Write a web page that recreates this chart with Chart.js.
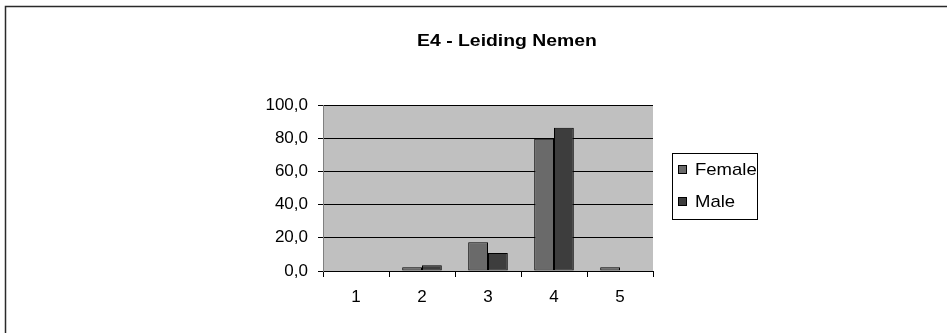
<!DOCTYPE html>
<html>
<head>
<meta charset="utf-8">
<script src="https://cdn.jsdelivr.net/npm/chart.js@4/dist/chart.umd.min.js"></script>
<style>
  html, body { margin: 0; padding: 0; background: #fff; }
  #wrap { width: 947px; height: 333px; }
</style>
</head>
<body>
<div id="wrap"><canvas id="myChart" width="947" height="333"></canvas></div>
<script>
var chartTitle = 'E4 - Leiding Nemen';
var categories = ['1', '2', '3', '4', '5'];
var female = [0, 2.2, 17.3, 79.7, 2.2];
var male = [0, 3.4, 10.9, 86.3, 0];
var seriesNames = ['Female', 'Male'];
var seriesColors = ['#6a6a6a', '#3d3d3d'];

// text drawn a bit wider, like the original
function wideText(c, txt, x, y, sx) {
    c.save();
    c.translate(x, y);
    c.scale(sx, 1);
    c.fillText(txt, 0, 0);
    c.restore();
}

// frame, grey plot area, title and boxed legend
var decor = {
    id: 'decor',
    beforeDraw: function(chart) {
        var c = chart.ctx, a = chart.chartArea;
        c.save();
        c.fillStyle = '#fff';
        c.fillRect(0, 0, chart.width, chart.height);
        c.fillStyle = '#c0c0c0';
        c.fillRect(a.left, a.top, a.right - a.left, a.bottom - a.top);
        c.strokeStyle = '#2a2a2a';
        c.lineWidth = 1.5;
        c.beginPath();
        c.moveTo(5.5, chart.height);
        c.lineTo(5.5, 6.5);
        c.lineTo(chart.width, 6.5);
        c.stroke();
        c.restore();
    },
    afterDraw: function(chart) {
        var c = chart.ctx;
        c.save();
        c.fillStyle = '#000';
        c.font = 'bold 17px "Liberation Sans", Arial, sans-serif';
        c.textAlign = 'center';
        c.textBaseline = 'middle';
        wideText(c, chartTitle, 507, 41, 1.14);

        // legend
        c.fillStyle = '#fff';
        c.fillRect(672, 153, 85, 66);
        c.strokeStyle = '#000';
        c.lineWidth = 1;
        c.strokeRect(672.5, 153.5, 85, 66);
        c.font = '17px "Liberation Sans", Arial, sans-serif';
        c.textAlign = 'left';
        chart.data.datasets.forEach(function(ds, i) {
            var y = 170 + i * 32;
            c.fillStyle = ds.backgroundColor;
            c.fillRect(678.5, y - 4.5, 8, 8);
            c.strokeRect(678.5, y - 4.5, 8, 8);
            c.fillStyle = '#000';
            wideText(c, ds.label, 695, y, 1.09);
        });
        c.restore();
    }
};

var tickFont = { family: '"Liberation Sans", Arial, sans-serif', size: 17 };

var ctx = document.getElementById('myChart').getContext('2d');
var chart = new Chart(ctx, {
    type: 'bar',
    data: {
        labels: categories,
        datasets: [
            {
                label: seriesNames[0],
                data: female,
                backgroundColor: seriesColors[0],
                borderColor: '#000',
                borderWidth: 1,
                borderSkipped: false
            },
            {
                label: seriesNames[1],
                data: male,
                backgroundColor: seriesColors[1],
                borderColor: '#000',
                borderWidth: 1,
                borderSkipped: false
            }
        ]
    },
    options: {
        responsive: false,
        animation: false,
        layout: { padding: { left: 243, right: 294, top: 105, bottom: 22 } },
        datasets: { bar: { categoryPercentage: 0.6, barPercentage: 1.0 } },
        plugins: {
            legend: { display: false },
            title: { display: false },
            tooltip: { enabled: false }
        },
        scales: {
            x: {
                afterFit: function(s) { s.height = 40; },
                grid: {
                    offset: true,
                    drawOnChartArea: false,
                    color: '#000',
                    tickLength: 6
                },
                border: { color: '#000', width: 1 },
                ticks: { color: '#000', padding: 10, font: tickFont }
            },
            y: {
                min: 0,
                max: 100,
                afterFit: function(s) { s.width = 80; },
                grid: { color: '#000', tickLength: 5 },
                border: { color: '#808080', width: 1 },
                ticks: {
                    stepSize: 20,
                    color: '#000',
                    padding: 10,
                    font: tickFont,
                    callback: function(v) { return v.toFixed(1).replace('.', ','); }
                }
            }
        }
    },
    plugins: [decor]
});
</script>
</body>
</html>
